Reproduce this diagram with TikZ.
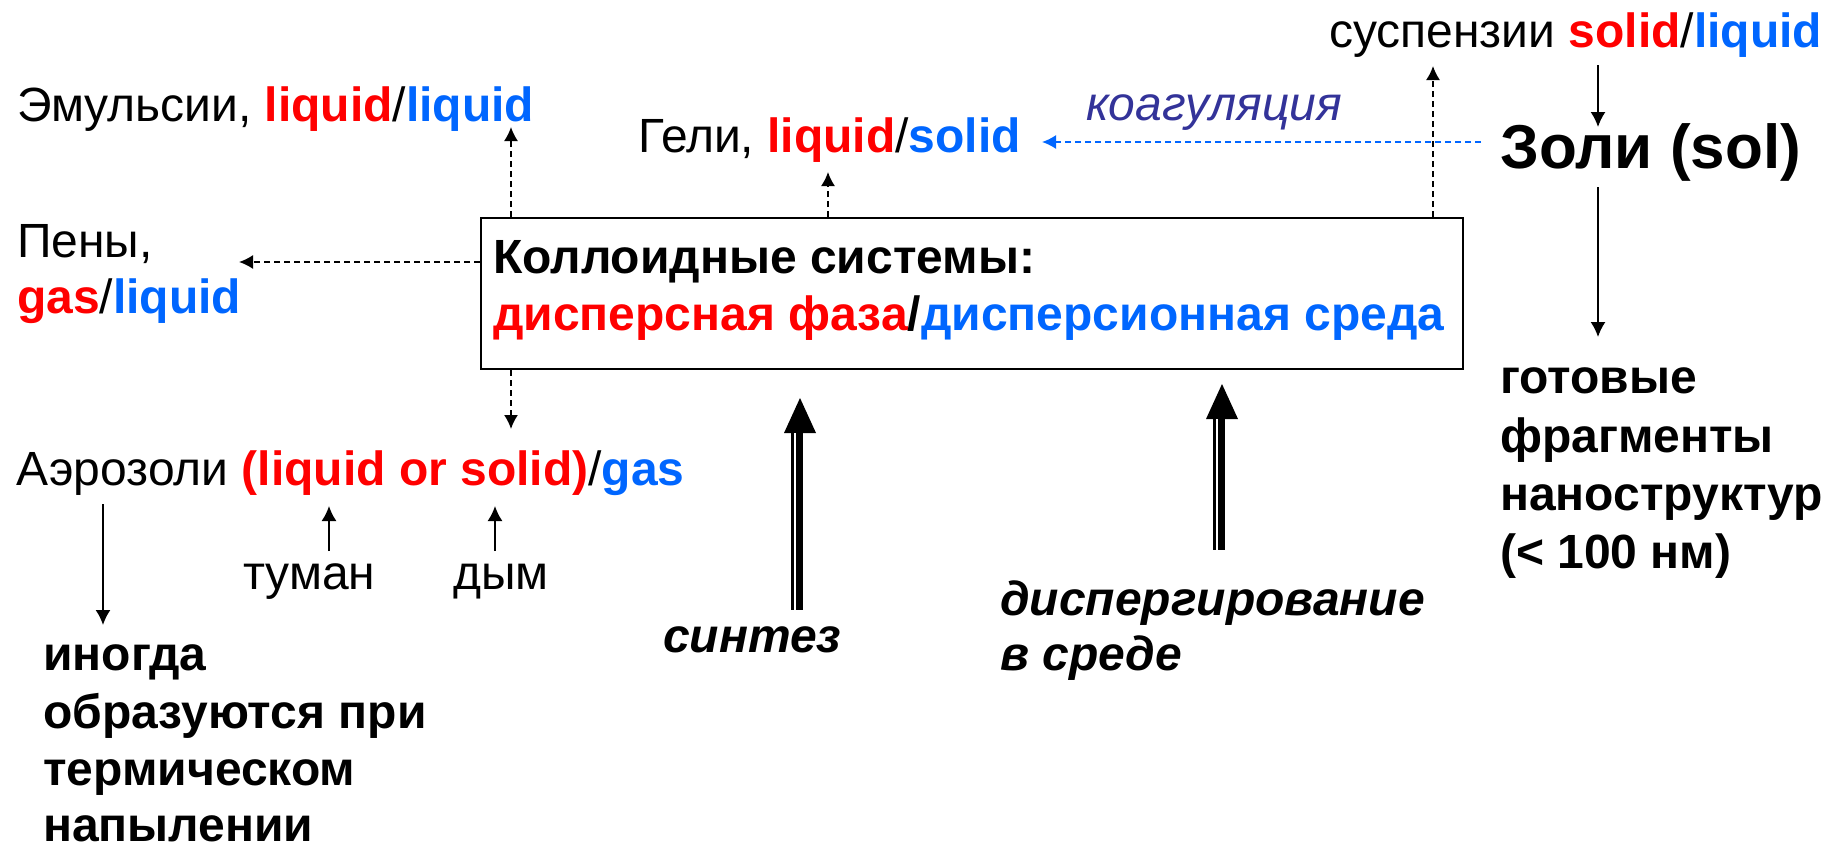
\documentclass[tikz,border=0pt]{standalone}
\usepackage{fontspec}
\setmainfont{Liberation Sans}
\usetikzlibrary{arrows.meta}
\definecolor{cred}{HTML}{FF0000}
\definecolor{cblue}{HTML}{0066FF}
\definecolor{cnavy}{HTML}{333399}
\newcommand{\tred}[1]{\textbf{\color{cred}#1}}
\newcommand{\tblue}[1]{\textbf{\color{cblue}#1}}
\begin{document}
\begin{tikzpicture}[x=1pt,y=-1pt,
  lbl/.style={anchor=base west, inner sep=0pt, font=\fontsize{48}{57}\selectfont},
  blbl/.style={lbl, font=\fontsize{48}{57}\selectfont\bfseries},
  bilbl/.style={lbl, font=\fontsize{48}{57}\selectfont\bfseries\itshape},
  dasharrow/.style={dash pattern=on 6pt off 4pt, line width=1.7pt, -{Latex[length=14pt,width=14pt]}},
  solidarrow/.style={line width=1.7pt, -{Latex[length=15pt,width=15pt]}},
  boxstyle/.style={draw, line width=2pt, minimum width=982pt, minimum height=151pt, anchor=north west, inner sep=0pt}]
\useasboundingbox (0,0) rectangle (1838,847);

% main box
\node[boxstyle] (box) at (480,217) {};
\node[blbl] (kol) at (493,273) {Коллоидные системы:};
\node[blbl] (disp) at (493,330) {{\color{cred}дисперсная фаза}/{\color{cblue}дисперсионная среда}};

% left column
\node[lbl] (emul) at (17,121) {Эмульсии, \tred{liquid}/\tblue{liquid}};
\node[lbl] (peny) at (17,257) {Пены,};
\node[lbl] (pgas) at (17,313) {\tred{gas}/\tblue{liquid}};
\node[lbl] (aer) at (16,485) {Аэрозоли \tred{(liquid or solid)}/\tblue{gas}};
\node[lbl] (tuman) at (243,589) {туман};
\node[lbl] (dym) at (453,589) {дым};
\node[blbl] (in1) at (43,670) {иногда};
\node[blbl] (in2) at (43,728) {образуются при};
\node[blbl] (in3) at (43,785) {термическом};
\node[blbl, text depth=0pt] (in4) at (43,841) {напылении};

% top middle
\node[lbl] (geli) at (638,152) {Гели, \tred{liquid}/\tblue{solid}};
\node[lbl, font=\fontsize{48}{57}\selectfont\itshape, text=cnavy] (koag) at (1086,120) {коагуляция};

% right column
\node[lbl] (susp) at (1329,47) {суспензии \tred{solid}/\tblue{liquid}};
\node[lbl, font=\fontsize{62}{70}\selectfont\bfseries] (zoli) at (1500,168) {Золи (sol)};
\node[blbl] (g1) at (1500,393) {готовые};
\node[blbl] (g2) at (1500,452) {фрагменты};
\node[blbl] (g3) at (1500,510) {наноструктур};
\node[blbl] (g4) at (1500,568) {(< 100 нм)};

% bottom labels
\node[bilbl] (sint) at (663,652) {синтез};
\node[bilbl] (dsp1) at (1000,615) {диспергирование};
\node[bilbl] (dsp2) at (1000,670) {в среде};

% free ends of connectors
\coordinate (eUp) at (511,127);
\coordinate (pLeft) at (239,262);
\coordinate (aDown) at (511,429);
\coordinate (gUp) at (828,172);
\coordinate (sUp) at (1433,66);
\coordinate (kStart) at (1481,142);
\coordinate (kEnd) at (1042,142);
\coordinate (szA) at (1598,65);
\coordinate (szB) at (1598,127);
\coordinate (zgA) at (1598,187);
\coordinate (zgB) at (1598,337);
\coordinate (aiA) at (103,504);
\coordinate (aiB) at (103,625);
\coordinate (tA) at (329,551);
\coordinate (tB) at (329,506);
\coordinate (dA) at (495,551);
\coordinate (dB) at (495,506);

% dashed connectors from the box
\draw[dasharrow] (box.north -| eUp) -- (eUp);
\draw[dasharrow] (box.west |- pLeft) -- (pLeft);
\draw[dasharrow] (box.south -| aDown) -- (aDown);
\draw[dasharrow] (box.north -| gUp) -- (gUp);
\draw[dasharrow] (box.north -| sUp) -- (sUp);
\draw[dasharrow, cblue] (kStart) -- (kEnd);

% solid connectors
\draw[solidarrow] (szA) -- (szB);
\draw[solidarrow] (zgA) -- (zgB);
\draw[solidarrow] (aiA) -- (aiB);
\draw[solidarrow] (tA) -- (tB);
\draw[solidarrow] (dA) -- (dB);

% double arrows
\foreach \xc/\tip/\hb/\bt in {800/398/433/610, 1222/384/419/550}{
  \fill (\xc-16,\hb) -- (\xc,\tip) -- (\xc+16,\hb) -- cycle;
  \fill (\xc-9,\hb-1) rectangle (\xc+3,\bt);
  \fill[white] (\xc-6,\hb) rectangle (\xc-4,\bt);
}
\end{tikzpicture}
\end{document}
